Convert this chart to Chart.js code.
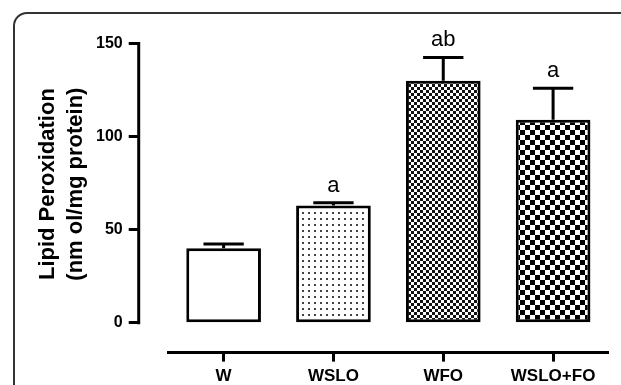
<!DOCTYPE html>
<html>
<head>
<meta charset="utf-8">
<script src="https://cdn.jsdelivr.net/npm/chart.js@4.4.0/dist/chart.umd.min.js"></script>
<style>
  html, body { margin: 0; padding: 0; background: #fff; }
  #wrap { position: relative; width: 621px; height: 385px; overflow: hidden; }
  #frame { position: absolute; left: 13px; top: 12px; width: 700px; height: 500px;
           border: 2px solid #333; border-radius: 14px; }
  canvas { position: absolute; left: 0; top: 0; }
</style>
</head>
<body>
<div id="wrap">
  <div id="frame"></div>
  <canvas id="myChart" width="621" height="385"></canvas>
</div>
<script>
// data
const labels = ['W', 'WSLO', 'WFO', 'WSLO+FO'];
const values = [40, 63, 130, 109];
const errors = [2.3, 1.5, 12.5, 17];
const letters = ['', 'a', 'ab', 'a'];
const yTicks = [0, 50, 100, 150];

const FONT = "'Liberation Sans', Arial, sans-serif";
const AXIS_GAP = 30; // y axis sits left of the plot area

// fill patterns
function makePattern(size, draw) {
  const c = document.createElement('canvas');
  c.width = size;
  c.height = size;
  const g = c.getContext('2d');
  g.fillStyle = '#fff';
  g.fillRect(0, 0, size, size);
  draw(g, size);
  return g.createPattern(c, 'repeat');
}

const plain = '#fff';
const dots = makePattern(6, g => {
  g.fillStyle = '#444';
  g.fillRect(2, 2, 2, 2);
});
const fineCheck = makePattern(6, g => {
  g.fillStyle = '#111';
  g.fillRect(0, 0, 3, 3);
  g.fillRect(3, 3, 3, 3);
});
const coarseCheck = makePattern(10, g => {
  g.fillStyle = '#000';
  g.fillRect(0, 0, 5, 5);
  g.fillRect(5, 5, 5, 5);
});

// y axis line, error bars and letters
const extras = {
  id: 'extras',
  afterDatasetsDraw(chart) {
    const { ctx, scales: { y } } = chart;
    ctx.save();
    ctx.strokeStyle = '#000';
    ctx.lineWidth = 3;

    const ax = y.right - AXIS_GAP;
    ctx.beginPath();
    ctx.moveTo(ax, y.getPixelForValue(yTicks[0]) + 1.5);
    ctx.lineTo(ax, y.getPixelForValue(yTicks[yTicks.length - 1]) - 1.5);
    ctx.stroke();

    ctx.fillStyle = '#000';
    ctx.font = '22px ' + FONT;
    ctx.textAlign = 'center';
    ctx.textBaseline = 'alphabetic';
    const meta = chart.getDatasetMeta(0);
    meta.data.forEach((bar, i) => {
      const top = y.getPixelForValue(values[i] + errors[i]);
      const cap = bar.width * 0.27;
      ctx.beginPath();
      ctx.moveTo(bar.x, bar.y);
      ctx.lineTo(bar.x, top);
      ctx.moveTo(bar.x - cap, top);
      ctx.lineTo(bar.x + cap, top);
      ctx.stroke();
      if (letters[i]) ctx.fillText(letters[i], bar.x, top - 11);
    });
    ctx.restore();
  }
};

const data = {
  labels: labels,
  datasets: [{
    data: values,
    backgroundColor: [plain, dots, fineCheck, coarseCheck],
    borderColor: '#000',
    borderWidth: 3,
    borderSkipped: false,
    categoryPercentage: 1,
    barPercentage: 0.68
  }]
};

const config = {
  type: 'bar',
  data: data,
  plugins: [extras],
  options: {
    responsive: false,
    animation: false,
    layout: { padding: { left: 20, right: 13, top: 15, bottom: -7 } },
    plugins: {
      legend: { display: false },
      tooltip: { enabled: false }
    },
    scales: {
      x: {
        border: { display: true, width: 3, color: '#000' },
        grid: { drawOnChartArea: false, offset: false, tickLength: 9, tickWidth: 3, tickColor: '#000' },
        ticks: { color: '#000', padding: 5, font: { family: FONT, size: 17, weight: 'bold' } }
      },
      y: {
        min: -16,
        max: 165,
        afterBuildTicks: scale => { scale.ticks = yTicks.map(v => ({ value: v })); },
        border: { display: false },
        grid: { drawOnChartArea: false, tickLength: AXIS_GAP + 10, tickWidth: 3, tickColor: '#000', tickBorderDash: [11, 100] },
        ticks: { color: '#000', padding: 6, font: { family: FONT, size: 16, weight: 'bold' } },
        title: {
          display: true,
          text: ['Lipid Peroxidation', '(nm ol/mg protein)'],
          color: '#000',
          font: { family: FONT, size: 22, weight: 'bold', lineHeight: 1.273 },
          padding: { top: 14, bottom: 0 }
        }
      }
    }
  }
};

const myChart = new Chart(document.getElementById('myChart'), config);
</script>
</body>
</html>
